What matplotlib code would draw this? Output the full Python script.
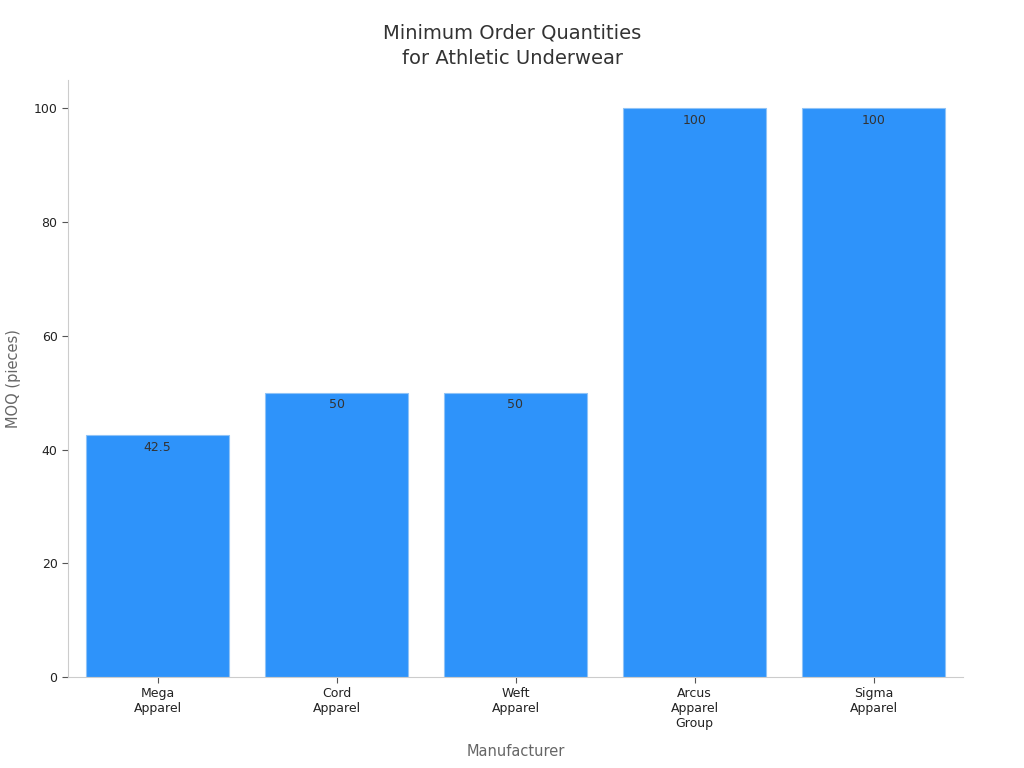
import matplotlib
matplotlib.use("Agg")
import matplotlib.pyplot as plt

manufacturers = ["Mega\nApparel", "Cord\nApparel", "Weft\nApparel", "Arcus\nApparel\nGroup", "Sigma\nApparel"]
moq = [42.5, 50, 50, 100, 100]
value_labels = ["42.5", "50", "50", "100", "100"]

fig = plt.figure(figsize=(10.24, 7.68), dpi=100)
ax = fig.add_axes([68 / 1024, 1 - 677 / 768, (963 - 68) / 1024, (677 - 80) / 768])

x = range(len(manufacturers))
bars = ax.bar(x, moq, width=0.8, color="#2E93FA", edgecolor="#8fc3f7", linewidth=0.8)
for b, lab in zip(bars, value_labels):
    ax.text(b.get_x() + b.get_width() / 2, b.get_height() - 1, lab,
            ha="center", va="top", fontsize=9, color="#333333")

ax.set_xlim(-0.5, 4.5)
ax.set_ylim(0, 105)
ax.set_xticks(list(x))
ax.set_xticklabels(manufacturers, fontsize=9, color="#222222")
ax.set_yticks([0, 20, 40, 60, 80, 100])
ax.tick_params(axis="y", labelsize=9, colors="#222222")
ax.tick_params(axis="both", color="#555555", length=4)
for s in ["top", "right"]:
    ax.spines[s].set_visible(False)
for s in ["left", "bottom"]:
    ax.spines[s].set_color("#cccccc")

ax.set_xlabel("Manufacturer", fontsize=10.5, color="#666666", labelpad=10)
ax.set_ylabel("MOQ (pieces)", fontsize=10.5, color="#666666", labelpad=9)
fig.text(0.5, 1 - 46 / 768, "Minimum Order Quantities\nfor Athletic Underwear", fontsize=14,
         color="#333333", ha="center", va="center", linespacing=1.45)

fig.savefig("out.png", dpi=100)
